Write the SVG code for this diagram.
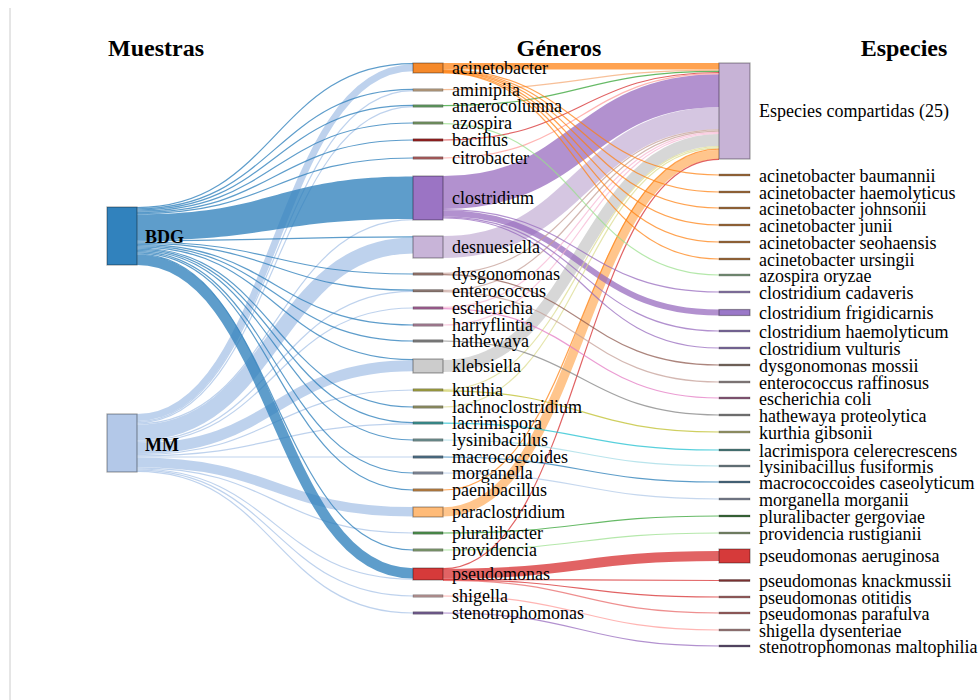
<svg xmlns="http://www.w3.org/2000/svg" width="979" height="700" viewBox="0 0 979 700">
<style>
.hd{font:bold 24px "Liberation Serif",serif;fill:#000;text-anchor:middle}
.nl{font:18px "Liberation Serif",serif;fill:#000}
.sl{font:bold 18px "Liberation Serif",serif;fill:#000}
#links path{fill:none}
.b{stroke:#3182bd;stroke-opacity:.78}
.bf{fill:#3182bd!important;fill-opacity:.78;stroke:none}
.m{stroke:#aec7e8;stroke-opacity:.8}
.t{stroke-width:1.2}
.l2{stroke-opacity:.72}
.nodes rect{stroke:#000;stroke-opacity:.35;stroke-width:1.2}
.nodes rect.th{stroke-width:.6}
</style>
<rect x="0" y="0" width="979" height="700" fill="#fff"/>
<line x1="10" y1="8" x2="10" y2="700" stroke="#ccc" stroke-width="1"/>
<g id="headers">
<text class="hd" x="156" y="56">Muestras</text>
<text class="hd" x="559" y="56">Géneros</text>
<text class="hd" x="904" y="56">Especies</text>
</g>
<g id="links">
<!-- layer 1: MM -->
<g class="m">
<path d="M137 417.5C275 417.5 275 67.7 413 67.7" stroke-width="7"/>
<path d="M137 432.6C275 432.6 275 245.4 413 245.4" stroke-width="16"/>
<path d="M137 448.5C275 448.5 275 365.7 413 365.7" stroke-width="11"/>
<path d="M137 462.4C275 462.4 275 511.8 413 511.8" stroke-width="9.6"/>
<path class="t" d="M137 421.6C275 421.6 275 90.6 413 90.6"/>
<path class="t" d="M137 422.8C275 422.8 275 106.6 413 106.6"/>
<path class="t" d="M137 424C275 424 275 219.6 413 219.6"/>
<path class="t" d="M137 441.2C275 441.2 275 291.4 413 291.4"/>
<path class="t" d="M137 442.4C275 442.4 275 308 413 308"/>
<path class="t" d="M137 454.6C275 454.6 275 390 413 390"/>
<path class="t" d="M137 455.8C275 455.8 275 423.8 413 423.8"/>
<path class="t" d="M137 457C275 457 275 457 413 457"/>
<path class="t" d="M137 467.8C275 467.8 275 533 413 533"/>
<path class="t" d="M137 469C275 469 275 579.2 413 579.2"/>
<path class="t" d="M137 470.2C275 470.2 275 596 413 596"/>
<path class="t" d="M137 471.4C275 471.4 275 613 413 613"/>
</g>
<!-- layer 1: BDG -->
<g class="b">
<path class="bf" d="M137 214.2C275 214.2 275 176.5 413 176.5L413 219C275 219 275 240.2 137 240.2Z"/>
<path d="M137 259.8C275 259.8 275 573.4 413 573.4" stroke-width="10.4"/>
<path class="t" d="M137 207.6C275 207.6 275 63.6 413 63.6"/>
<path class="t" d="M137 208.8C275 208.8 275 89.4 413 89.4"/>
<path class="t" d="M137 210C275 210 275 105.4 413 105.4"/>
<path class="t" d="M137 211.2C275 211.2 275 123 413 123"/>
<path class="t" d="M137 212.4C275 212.4 275 140 413 140"/>
<path class="t" d="M137 213.6C275 213.6 275 158 413 158"/>
<path class="t" d="M137 240.8C275 240.8 275 236.8 413 236.8"/>
<path class="t" d="M137 242C275 242 275 274 413 274"/>
<path class="t" d="M137 243.2C275 243.2 275 290.2 413 290.2"/>
<path class="t" d="M137 244.4C275 244.4 275 325 413 325"/>
<path class="t" d="M137 245.6C275 245.6 275 341 413 341"/>
<path class="t" d="M137 246.8C275 246.8 275 359.6 413 359.6"/>
<path class="t" d="M137 248C275 248 275 407 413 407"/>
<path class="t" d="M137 249.2C275 249.2 275 422.6 413 422.6"/>
<path class="t" d="M137 250.4C275 250.4 275 440 413 440"/>
<path class="t" d="M137 251.6C275 251.6 275 473 413 473"/>
<path class="t" d="M137 252.8C275 252.8 275 490 413 490"/>
<path class="t" d="M137 254C275 254 275 550 413 550"/>
</g>
<!-- layer 2: genera to species -->
<g class="l2">
<path d="M443 192.5C581 192.5 581 90.8 719 90.8" stroke="#9467bd" stroke-width="33"/>
<path d="M443 247C581 247 581 118.3 719 118.3" stroke="#c5b0d5" stroke-width="22"/>
<path d="M443 366C581 366 581 140.1 719 140.1" stroke="#c7c7c7" stroke-width="12"/>
<path d="M443 511.8C581 511.8 581 154.35 719 154.35" stroke="#ffbb78" stroke-width="9.3" stroke-opacity=".85"/>
<path d="M443 66.25C581 66.25 581 66.25 719 66.25" stroke="#ff7f0e" stroke-width="6.5"/>
<path d="M443 573.7C581 573.7 581 556 719 556" stroke="#d62728" stroke-width="10"/>
<path d="M443 213.2C581 213.2 581 312.5 719 312.5" stroke="#9467bd" stroke-width="6"/>
<path class="t" d="M443 89.6C581 89.6 581 70.1 719 70.1" stroke="#f4a872"/>
<path class="t" d="M443 105.6C581 105.6 581 71.3 719 71.3" stroke="#2ca02c"/>
<path class="t" d="M443 140C581 140 581 72.5 719 72.5" stroke="#d62728"/>
<path class="t" d="M443 158C581 158 581 73.7 719 73.7" stroke="#ff9896"/>
<path class="t" d="M443 273.4C581 273.4 581 129.9 719 129.9" stroke="#c49c94"/>
<path class="t" d="M443 290.4C581 290.4 581 131.1 719 131.1" stroke="#c49c94"/>
<path class="t" d="M443 307.4C581 307.4 581 132.3 719 132.3" stroke="#f7b6d2"/>
<path class="t" d="M443 325C581 325 581 133.5 719 133.5" stroke="#f7b6d2"/>
<path class="t" d="M443 389.6C581 389.6 581 146.7 719 146.7" stroke="#dbdb8d"/>
<path class="t" d="M443 407C581 407 581 147.9 719 147.9" stroke="#dbdb8d"/>
<path class="t" d="M443 490C581 490 581 149.1 719 149.1" stroke="#ff7f0e"/>
<path class="t" d="M443 568.6C581 568.6 581 159.4 719 159.4" stroke="#d62728"/>
<path class="t" d="M443 69.9C581 69.9 581 175 719 175" stroke="#ff7f0e"/>
<path class="t" d="M443 70.5C581 70.5 581 192 719 192" stroke="#ff7f0e"/>
<path class="t" d="M443 71.1C581 71.1 581 208 719 208" stroke="#ff7f0e"/>
<path class="t" d="M443 71.7C581 71.7 581 225 719 225" stroke="#ff7f0e"/>
<path class="t" d="M443 72.3C581 72.3 581 242 719 242" stroke="#ff7f0e"/>
<path class="t" d="M443 72.9C581 72.9 581 259 719 259" stroke="#ff7f0e"/>
<path class="t" d="M443 123.6C581 123.6 581 275 719 275" stroke="#98df8a"/>
<path class="t" d="M443 209.6C581 209.6 581 292 719 292" stroke="#9467bd"/>
<path class="t" d="M443 216.8C581 216.8 581 331 719 331" stroke="#9467bd"/>
<path class="t" d="M443 218C581 218 581 348 719 348" stroke="#9467bd"/>
<path class="t" d="M443 274.6C581 274.6 581 365 719 365" stroke="#8c564b"/>
<path class="t" d="M443 291.6C581 291.6 581 382 719 382" stroke="#c49c94"/>
<path class="t" d="M443 308.6C581 308.6 581 398 719 398" stroke="#e377c2"/>
<path class="t" d="M443 341C581 341 581 415 719 415" stroke="#7f7f7f"/>
<path class="t" d="M443 390.8C581 390.8 581 432 719 432" stroke="#bcbd22"/>
<path class="t" d="M443 423.2C581 423.2 581 450 719 450" stroke="#17becf"/>
<path class="t" d="M443 440C581 440 581 466 719 466" stroke="#9edae5"/>
<path class="t" d="M443 457C581 457 581 482 719 482" stroke="#1f77b4"/>
<path class="t" d="M443 473C581 473 581 499 719 499" stroke="#aec7e8"/>
<path class="t" d="M443 533C581 533 581 516 719 516" stroke="#2ca02c"/>
<path class="t" d="M443 550C581 550 581 533 719 533" stroke="#98df8a"/>
<path class="t" d="M443 579.3C581 579.3 581 580.5 719 580.5" stroke="#d62728"/>
<path class="t" d="M443 579.8C581 579.8 581 597 719 597" stroke="#d62728"/>
<path class="t" d="M443 580.3C581 580.3 581 613 719 613" stroke="#e86464"/>
<path class="t" d="M443 596C581 596 581 630 719 630" stroke="#ff9896"/>
<path class="t" d="M443 613C581 613 581 646 719 646" stroke="#9467bd"/>
</g>
</g>
<g class="nodes">
<g id="n-BDG"><rect x="107" y="207" width="30" height="58" fill="#3182bd"/><text class="sl" x="145" y="243">BDG</text></g>
<g id="n-MM"><rect x="107" y="414" width="30" height="58" fill="#b3c8e8"/><text class="sl" x="145" y="451">MM</text></g>

<g id="g-acinetobacter"><rect x="413" y="63" width="30" height="10" fill="#f5892a"/><text class="nl" x="452" y="73.5">acinetobacter</text></g>
<g id="g-aminipila"><rect class="th" x="413" y="88.8" width="30" height="2.4" fill="#b0977a"/><text class="nl" x="452" y="95.5">aminipila</text></g>
<g id="g-anaerocolumna"><rect class="th" x="413" y="104.8" width="30" height="2.4" fill="#5d945d"/><text class="nl" x="452" y="111.5">anaerocolumna</text></g>
<g id="g-azospira"><rect class="th" x="413" y="121.8" width="30" height="2.4" fill="#6f8f5f"/><text class="nl" x="452" y="128.5">azospira</text></g>
<g id="g-bacillus"><rect class="th" x="413" y="138.8" width="30" height="2.4" fill="#8e2020"/><text class="nl" x="452" y="145.5">bacillus</text></g>
<g id="g-citrobacter"><rect class="th" x="413" y="156.8" width="30" height="2.4" fill="#a45a5a"/><text class="nl" x="452" y="163.5">citrobacter</text></g>
<g id="g-clostridium"><rect x="413" y="176" width="30" height="44" fill="#9b74c4"/><text class="nl" x="452" y="203.5">clostridium</text></g>
<g id="g-desnuesiella"><rect x="413" y="236" width="30" height="22" fill="#c8b4d8"/><text class="nl" x="452" y="252.5">desnuesiella</text></g>
<g id="g-dysgonomonas"><rect class="th" x="413" y="272.8" width="30" height="2.4" fill="#8f7068"/><text class="nl" x="452" y="279.5">dysgonomonas</text></g>
<g id="g-enterococcus"><rect class="th" x="413" y="289.6" width="30" height="2.4" fill="#8a7670"/><text class="nl" x="452" y="296.5">enterococcus</text></g>
<g id="g-escherichia"><rect class="th" x="413" y="306.8" width="30" height="2.4" fill="#9a5c8c"/><text class="nl" x="452" y="313.5">escherichia</text></g>
<g id="g-harryflintia"><rect class="th" x="413" y="323.8" width="30" height="2.4" fill="#a07a90"/><text class="nl" x="452" y="330.5">harryflintia</text></g>
<g id="g-hathewaya"><rect class="th" x="413" y="339.8" width="30" height="2.4" fill="#7a7a7a"/><text class="nl" x="452" y="346.5">hathewaya</text></g>
<g id="g-klebsiella"><rect x="413" y="359" width="30" height="14" fill="#cccccc"/><text class="nl" x="452" y="371.5">klebsiella</text></g>
<g id="g-kurthia"><rect class="th" x="413" y="388.8" width="30" height="2.4" fill="#9a9a40"/><text class="nl" x="452" y="395.5">kurthia</text></g>
<g id="g-lachnoclostridium"><rect class="th" x="413" y="405.8" width="30" height="2.4" fill="#8a8a60"/><text class="nl" x="452" y="412.5">lachnoclostridium</text></g>
<g id="g-lacrimispora"><rect class="th" x="413" y="421.8" width="30" height="2.4" fill="#3a8a8a"/><text class="nl" x="452" y="428.5">lacrimispora</text></g>
<g id="g-lysinibacillus"><rect class="th" x="413" y="438.8" width="30" height="2.4" fill="#6a8a8a"/><text class="nl" x="452" y="445.5">lysinibacillus</text></g>
<g id="g-macrococcoides"><rect class="th" x="413" y="455.8" width="30" height="2.4" fill="#4a6a80"/><text class="nl" x="452" y="462.5">macrococcoides</text></g>
<g id="g-morganella"><rect class="th" x="413" y="471.8" width="30" height="2.4" fill="#7c8494"/><text class="nl" x="452" y="478.5">morganella</text></g>
<g id="g-paenibacillus"><rect class="th" x="413" y="488.8" width="30" height="2.4" fill="#b07a40"/><text class="nl" x="452" y="495.5">paenibacillus</text></g>
<g id="g-paraclostridium"><rect x="413" y="507" width="30" height="10" fill="#ffbb78"/><text class="nl" x="452" y="517.5">paraclostridium</text></g>
<g id="g-pluralibacter"><rect class="th" x="413" y="531.8" width="30" height="2.4" fill="#4a8a4a"/><text class="nl" x="452" y="538.5">pluralibacter</text></g>
<g id="g-providencia"><rect class="th" x="413" y="548.8" width="30" height="2.4" fill="#7a946a"/><text class="nl" x="452" y="555.5">providencia</text></g>
<g id="g-pseudomonas"><rect x="413" y="568" width="30" height="12" fill="#d63a3a"/><text class="nl" x="452" y="579.5">pseudomonas</text></g>
<g id="g-shigella"><rect class="th" x="413" y="594.8" width="30" height="2.4" fill="#b09090"/><text class="nl" x="452" y="601.5">shigella</text></g>
<g id="g-stenotrophomonas"><rect class="th" x="413" y="611.8" width="30" height="2.4" fill="#6e5a8a"/><text class="nl" x="452" y="618.5">stenotrophomonas</text></g>

<g id="s-compartidas"><rect x="719" y="63" width="31" height="96" fill="#c7b3d6"/><text class="nl" x="759" y="117">Especies compartidas (25)</text></g>
<g id="s-acinetobacter-baumannii"><rect class="th" x="719" y="174" width="31" height="2" fill="#9c6a3c"/><text class="nl" x="759" y="181.5">acinetobacter baumannii</text></g>
<g id="s-acinetobacter-haemolyticus"><rect class="th" x="719" y="191" width="31" height="2" fill="#9c6a3c"/><text class="nl" x="759" y="198.5">acinetobacter haemolyticus</text></g>
<g id="s-acinetobacter-johnsonii"><rect class="th" x="719" y="207" width="31" height="2" fill="#9c6a3c"/><text class="nl" x="759" y="214.5">acinetobacter johnsonii</text></g>
<g id="s-acinetobacter-junii"><rect class="th" x="719" y="224" width="31" height="2" fill="#9c6a3c"/><text class="nl" x="759" y="231.5">acinetobacter junii</text></g>
<g id="s-acinetobacter-seohaensis"><rect class="th" x="719" y="241" width="31" height="2" fill="#9c6a3c"/><text class="nl" x="759" y="248.5">acinetobacter seohaensis</text></g>
<g id="s-acinetobacter-ursingii"><rect class="th" x="719" y="258" width="31" height="2" fill="#9c6a3c"/><text class="nl" x="759" y="265.5">acinetobacter ursingii</text></g>
<g id="s-azospira-oryzae"><rect class="th" x="719" y="274" width="31" height="2" fill="#7a947a"/><text class="nl" x="759" y="281.5">azospira oryzae</text></g>
<g id="s-clostridium-cadaveris"><rect class="th" x="719" y="291" width="31" height="2" fill="#8a78a8"/><text class="nl" x="759" y="298.5">clostridium cadaveris</text></g>
<g id="s-clostridium-frigidicarnis"><rect x="719" y="309.5" width="31" height="6" fill="#9a78c8"/><text class="nl" x="759" y="319">clostridium frigidicarnis</text></g>
<g id="s-clostridium-haemolyticum"><rect class="th" x="719" y="330" width="31" height="2" fill="#7e6ca0"/><text class="nl" x="759" y="337.5">clostridium haemolyticum</text></g>
<g id="s-clostridium-vulturis"><rect class="th" x="719" y="347" width="31" height="2" fill="#7e6ca0"/><text class="nl" x="759" y="354.5">clostridium vulturis</text></g>
<g id="s-dysgonomonas-mossii"><rect class="th" x="719" y="364" width="31" height="2" fill="#7a6a60"/><text class="nl" x="759" y="371.5">dysgonomonas mossii</text></g>
<g id="s-enterococcus-raffinosus"><rect class="th" x="719" y="381" width="31" height="2" fill="#8a8080"/><text class="nl" x="759" y="388.5">enterococcus raffinosus</text></g>
<g id="s-escherichia-coli"><rect class="th" x="719" y="397" width="31" height="2" fill="#8a5a7a"/><text class="nl" x="759" y="404.5">escherichia coli</text></g>
<g id="s-hathewaya-proteolytica"><rect class="th" x="719" y="414" width="31" height="2" fill="#7a7a7a"/><text class="nl" x="759" y="421.5">hathewaya proteolytica</text></g>
<g id="s-kurthia-gibsonii"><rect class="th" x="719" y="431" width="31" height="2" fill="#9a9a6a"/><text class="nl" x="759" y="438.5">kurthia gibsonii</text></g>
<g id="s-lacrimispora-celerecrescens"><rect class="th" x="719" y="449" width="31" height="2" fill="#4a7a7a"/><text class="nl" x="759" y="456.5">lacrimispora celerecrescens</text></g>
<g id="s-lysinibacillus-fusiformis"><rect class="th" x="719" y="465" width="31" height="2" fill="#6a7a80"/><text class="nl" x="759" y="472.5">lysinibacillus fusiformis</text></g>
<g id="s-macrococcoides-caseolyticum"><rect class="th" x="719" y="481" width="31" height="2" fill="#4a6a80"/><text class="nl" x="759" y="488.5">macrococcoides caseolyticum</text></g>
<g id="s-morganella-morganii"><rect class="th" x="719" y="498" width="31" height="2" fill="#7a8090"/><text class="nl" x="759" y="505.5">morganella morganii</text></g>
<g id="s-pluralibacter-gergoviae"><rect class="th" x="719" y="515" width="31" height="2" fill="#3a6a3a"/><text class="nl" x="759" y="522.5">pluralibacter gergoviae</text></g>
<g id="s-providencia-rustigianii"><rect class="th" x="719" y="532" width="31" height="2" fill="#7a8a6a"/><text class="nl" x="759" y="539.5">providencia rustigianii</text></g>
<g id="s-pseudomonas-aeruginosa"><rect x="719" y="549" width="31" height="14" fill="#d63a3a"/><text class="nl" x="759" y="562">pseudomonas aeruginosa</text></g>
<g id="s-pseudomonas-knackmussii"><rect class="th" x="719" y="579.5" width="31" height="2" fill="#7a3030"/><text class="nl" x="759" y="587">pseudomonas knackmussii</text></g>
<g id="s-pseudomonas-otitidis"><rect class="th" x="719" y="596" width="31" height="2" fill="#9a6060"/><text class="nl" x="759" y="603.5">pseudomonas otitidis</text></g>
<g id="s-pseudomonas-parafulva"><rect class="th" x="719" y="612" width="31" height="2" fill="#9a6060"/><text class="nl" x="759" y="619.5">pseudomonas parafulva</text></g>
<g id="s-shigella-dysenteriae"><rect class="th" x="719" y="629" width="31" height="2" fill="#9a7a7a"/><text class="nl" x="759" y="636.5">shigella dysenteriae</text></g>
<g id="s-stenotrophomonas-maltophilia"><rect class="th" x="719" y="645" width="31" height="2" fill="#5a4a6a"/><text class="nl" x="759" y="652.5">stenotrophomonas maltophilia</text></g>
</g>
</svg>
